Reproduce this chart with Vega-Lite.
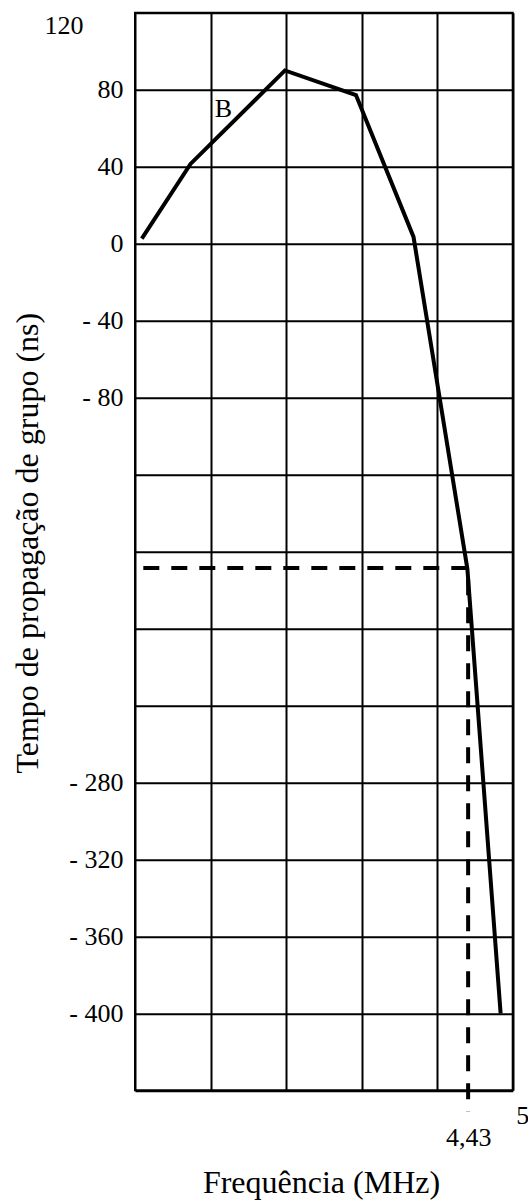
{
  "$schema": "https://vega.github.io/schema/vega-lite/v6.json",
  "autosize": "none",
  "padding": {"left": 135, "top": 12.7, "right": 15.3, "bottom": 110.7},
  "width": 377.7,
  "height": 1077.6,
  "background": "white",
  "config": {
    "view": {"stroke": "black", "strokeWidth": 2},
    "font": "Liberation Serif"
  },
  "datasets": {
    "curve": [
      {"i": 1, "freq": 0.09, "delay": 2.6},
      {"i": 2, "freq": 0.735, "delay": 41.4},
      {"i": 3, "freq": 1.985, "delay": 90},
      {"i": 4, "freq": 2.925, "delay": 77.2},
      {"i": 5, "freq": 3.687, "delay": 3.5},
      {"i": 6, "freq": 4.4, "delay": -169},
      {"i": 7, "freq": 4.84, "delay": -400}
    ],
    "guide": [
      {"i": 1, "freq": 0.11, "delay": -168.6},
      {"i": 2, "freq": 4.41, "delay": -168.6},
      {"i": 3, "freq": 4.41, "delay": -451}
    ],
    "note": [
      {"freq": 1.17, "delay": 70.2, "label": "B"}
    ]
  },
  "encoding": {
    "x": {
      "field": "freq",
      "type": "quantitative",
      "scale": {"domain": [0, 5], "nice": false, "zero": false},
      "axis": {
        "values": [0, 1, 2, 3, 4, 4.41, 5],
        "grid": true,
        "gridColor": "black",
        "gridWidth": 2,
        "gridOpacity": {"condition": {"test": "datum.value == 4.41", "value": 0}, "value": 1},
        "ticks": false,
        "tickSize": 0,
        "domain": false,
        "labelExpr": "datum.value == 5 ? '5' : (datum.value == 4.41 ? '4,43' : '')",
        "labelFont": "Liberation Serif",
        "labelFontSize": 26,
        "labelColor": "black",
        "labelAlign": {"condition": {"test": "datum.value == 5", "value": "left"}, "value": "center"},
        "labelBaseline": "alphabetic",
        "labelPadding": {"condition": {"test": "datum.value == 5", "value": 33}, "value": 55},
        "labelOffset": {"condition": {"test": "datum.value == 5", "value": 3}, "value": 0},
        "labelOverlap": false,
        "labelFlush": false,
        "labelBound": false,
        "title": "Frequência (MHz)",
        "titleFont": "Liberation Serif",
        "titleFontSize": 32,
        "titleFontWeight": "normal",
        "titleColor": "black",
        "titleX": 186,
        "titleY": 102.4,
        "titleAlign": "center",
        "titleBaseline": "alphabetic"
      }
    },
    "y": {
      "field": "delay",
      "type": "quantitative",
      "scale": {"domain": [-440, 120], "nice": false, "zero": false},
      "axis": {
        "values": [120, 80, 40, 0, -40, -80, -120, -160, -200, -240, -280, -320, -360, -400, -440],
        "grid": true,
        "gridColor": "black",
        "gridWidth": 2,
        "gridOpacity": 1,
        "ticks": false,
        "tickSize": 0,
        "domain": false,
        "labelExpr": "indexof([-120, -160, -200, -240, -440], datum.value) >= 0 ? '' : (datum.value < 0 ? '- ' + (-datum.value) : '' + datum.value)",
        "labelFont": "Liberation Serif",
        "labelFontSize": 26,
        "labelColor": "black",
        "labelPadding": {"condition": {"test": "datum.value == 120", "value": 52}, "value": 12},
        "labelBaseline": {"condition": {"test": "datum.value == 120", "value": "top"}, "value": "middle"},
        "labelOverlap": false,
        "labelFlush": false,
        "labelBound": false,
        "title": "Tempo de propagação de grupo (ns)",
        "titleFont": "Liberation Serif",
        "titleFontSize": 32,
        "titleFontWeight": "normal",
        "titleColor": "black",
        "titleX": -98,
        "titleY": 530,
        "titleAngle": -90,
        "titleAlign": "center",
        "titleBaseline": "alphabetic"
      }
    }
  },
  "layer": [
    {
      "data": {"name": "curve"},
      "mark": {"type": "line", "color": "black", "strokeWidth": 4, "strokeJoin": "miter", "clip": false},
      "encoding": {"order": {"field": "i", "type": "quantitative"}}
    },
    {
      "data": {"name": "guide"},
      "mark": {"type": "line", "color": "black", "strokeWidth": 4, "strokeDash": [16, 12], "clip": false},
      "encoding": {"order": {"field": "i", "type": "quantitative"}}
    },
    {
      "data": {"name": "note"},
      "mark": {"type": "text", "font": "Liberation Serif", "fontSize": 26, "color": "black", "align": "center", "baseline": "middle"},
      "encoding": {"text": {"field": "label", "type": "nominal"}}
    }
  ]
}
